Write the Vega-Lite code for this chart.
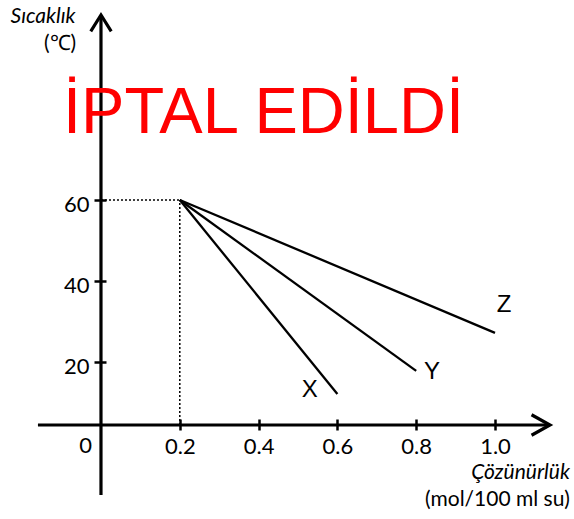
{
  "$schema": "https://vega.github.io/schema/vega-lite/v6.json",
  "width": 574,
  "height": 519,
  "autosize": {"type": "none"},
  "padding": 0,
  "background": "white",
  "config": {"view": {"stroke": null}},
  "datasets": {
    "axes": [
      {"x": -0.16, "y": 4.44, "x2": 1.1396, "y2": 4.44},
      {"x": 0, "y": -12.84, "x2": 0, "y2": 105.7}
    ],
    "dots": [
      {"x": 0, "y": 60, "x2": 0.2, "y2": 60},
      {"x": 0.2, "y": 4.44, "x2": 0.2, "y2": 60}
    ],
    "lines": [
      {"series": "X", "x": 0.2, "y": 60},
      {"series": "X", "x": 0.6, "y": 12.1},
      {"series": "Y", "x": 0.2, "y": 60},
      {"series": "Y", "x": 0.8, "y": 17.8},
      {"series": "Z", "x": 0.2, "y": 60},
      {"series": "Z", "x": 1.0, "y": 27.2}
    ],
    "arrows": [
      {"dir": "up", "x": 0, "y": 105.7},
      {"dir": "right", "x": 1.1396, "y": 4.44}
    ],
    "serieslabels": [
      {"label": "X", "x": 0.53, "y": 13.1},
      {"label": "Y", "x": 0.84, "y": 17.5},
      {"label": "Z", "x": 1.023, "y": 34.0}
    ]
  },
  "encoding": {
    "x": {
      "field": "x",
      "type": "quantitative",
      "scale": {"domain": [-0.2563, 1.2005], "nice": false, "zero": false},
      "axis": {
        "orient": "bottom",
        "offset": -100,
        "values": [0.2, 0.4, 0.6, 0.8, 1.0],
        "format": ".1f",
        "domain": false,
        "grid": false,
        "title": null,
        "tickSize": 11,
        "tickWidth": 2.5,
        "tickColor": "black",
        "labelFont": "Lato",
        "labelFontSize": 22,
        "labelColor": "black",
        "labelPadding": 6
      }
    },
    "y": {
      "field": "y",
      "type": "quantitative",
      "scale": {"domain": [-18.77, 109.38], "nice": false, "zero": false},
      "axis": {
        "orient": "left",
        "offset": -106,
        "values": [20, 40, 60],
        "domain": false,
        "grid": false,
        "title": null,
        "tickSize": 12,
        "tickWidth": 2.5,
        "tickColor": "black",
        "labelFont": "Lato",
        "labelFontSize": 22,
        "labelColor": "black",
        "labelPadding": 5,
        "labelOffset": 5
      }
    }
  },
  "layer": [
    {
      "data": {"name": "dots"},
      "mark": {"type": "rule", "color": "black", "strokeWidth": 1.5, "strokeDash": [2, 2]},
      "encoding": {"x2": {"field": "x2"}, "y2": {"field": "y2"}}
    },
    {
      "data": {"name": "axes"},
      "mark": {"type": "rule", "color": "black", "strokeWidth": 3.2},
      "encoding": {"x2": {"field": "x2"}, "y2": {"field": "y2"}}
    },
    {
      "data": {"name": "arrows"},
      "mark": {"type": "point", "filled": false, "color": "black", "strokeWidth": 3.2, "opacity": 1, "size": 420},
      "encoding": {
        "shape": {
          "field": "dir",
          "type": "nominal",
          "scale": {"domain": ["up", "right"], "range": ["M-1,1.6L0,0L1,1.6", "M-1.8,-1L0,0L-1.8,1"]},
          "legend": null
        }
      }
    },
    {
      "data": {"name": "lines"},
      "mark": {"type": "line", "color": "black", "strokeWidth": 2.3},
      "encoding": {"detail": {"field": "series", "type": "nominal"}}
    },
    {
      "data": {"name": "serieslabels"},
      "mark": {"type": "text", "font": "Liberation Sans", "fontSize": 24, "color": "black", "align": "center", "baseline": "middle"},
      "encoding": {"text": {"field": "label"}}
    },
    {
      "data": {"values": [{"label": "0", "x": -0.039, "y": 4.44}]},
      "mark": {"type": "text", "font": "Lato", "fontSize": 22, "color": "black", "align": "center", "baseline": "top", "dy": 11},
      "encoding": {"text": {"field": "label"}}
    },
    {
      "data": {"values": [{"label": "Sıcaklık", "x": -0.147, "y": 105.2}]},
      "mark": {"type": "text", "font": "Lato", "fontSize": 21, "fontStyle": "italic", "color": "black", "align": "center", "baseline": "middle"},
      "encoding": {"text": {"field": "label"}}
    },
    {
      "data": {"values": [{"label": "(℃)", "x": -0.104, "y": 98.5}]},
      "mark": {"type": "text", "font": "Lato", "fontSize": 21, "color": "black", "align": "center", "baseline": "middle"},
      "encoding": {"text": {"field": "label"}}
    },
    {
      "data": {"values": [{"label": "Çözünürlük", "x": 1.19, "y": -7.3}]},
      "mark": {"type": "text", "font": "Lato", "fontSize": 21, "fontStyle": "italic", "color": "black", "align": "right", "baseline": "middle"},
      "encoding": {"text": {"field": "label"}}
    },
    {
      "data": {"values": [{"label": "(mol/100 ml su)", "x": 1.19, "y": -14.0}]},
      "mark": {"type": "text", "font": "Lato", "fontSize": 21, "color": "black", "align": "right", "baseline": "middle"},
      "encoding": {"text": {"field": "label"}}
    },
    {
      "data": {"values": [{"label": "İPTAL EDİLDİ", "x": -0.0964, "y": 76.5}]},
      "mark": {"type": "text", "font": "Liberation Sans", "fontSize": 65, "color": "#ff0000", "align": "left", "baseline": "alphabetic"},
      "encoding": {"text": {"field": "label"}}
    }
  ]
}
